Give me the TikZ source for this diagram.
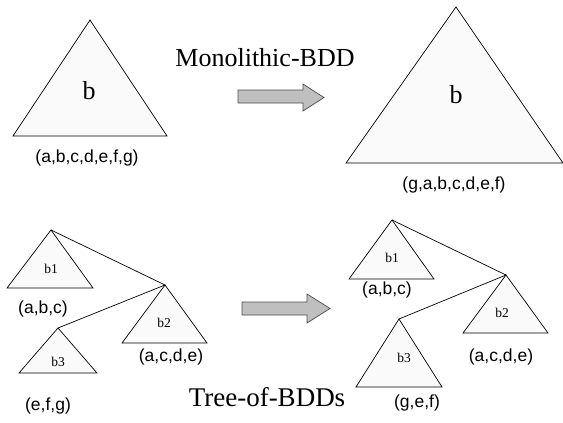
\documentclass[tikz,border=0pt]{standalone}
\usepackage{fontspec}
\setmainfont{Liberation Serif}
\newfontfamily\labelsans{Liberation Sans}
\begin{document}
\begin{tikzpicture}[x=1pt,y=-1pt,
  tri/.style={draw=black, fill=black!2, line width=0.7pt, line join=miter},
  link/.style={draw=black, line width=0.7pt},
  fatarrow/.style={draw=black!70, fill=black!25, line width=0.7pt, line join=miter},
  title/.style={anchor=base, inner sep=0pt, font=\fontsize{26}{30}\selectfont},
  bigname/.style={anchor=base, inner sep=0pt, font=\fontsize{26}{30}\selectfont},
  smallname/.style={anchor=base, inner sep=0pt, font=\fontsize{13.5}{16}\selectfont},
  order/.style={anchor=base, inner sep=0pt, font=\labelsans\fontsize{17.5}{20}\selectfont}]
\useasboundingbox (0,0) rectangle (563,423);

% ---- monolithic BDD: before and after reordering ----
\coordinate (m1) at (90,20);
\draw[tri] (m1) -- (167,136) -- (13,136) -- cycle;
\node[bigname] (m1name) at (89,99) {b};
\node[order] (m1ord) at (87,162) {(a,b,c,d,e,f,g)};

\coordinate (m2) at (456,7);
\draw[tri] (m2) -- (563,163) -- (346,163) -- cycle;
\node[bigname] (m2name) at (456,103) {b};
\node[order] (m2ord) at (454,189) {(g,a,b,c,d,e,f)};

\node[title] (mono) at (265,66) {Monolithic-BDD};
\draw[fatarrow] (238,90) -- (303,90) -- (303,84) -- (324,97.5) -- (303,111)
  -- (303,103) -- (238,103) -- cycle;

% ---- tree of BDDs: before ----
\coordinate (l1) at (51,230);
\coordinate (l2) at (165,285);
\coordinate (l3) at (58,328);
\draw[tri] (l1) -- (93,288) -- (7,288) -- cycle;
\draw[tri] (l2) -- (207,343) -- (122,343) -- cycle;
\draw[tri] (l3) -- (97,373) -- (19,373) -- cycle;
\draw[link] (l1) -- (l2);
\draw[link] (l2) -- (l3);
\node[smallname] (l1name) at (51,273) {b1};
\node[smallname] (l2name) at (164,327) {b2};
\node[smallname] (l3name) at (58,366) {b3};
\node[order] (l1ord) at (43,313) {(a,b,c)};
\node[order] (l2ord) at (171,361) {(a,c,d,e)};
\node[order] (l3ord) at (48,410) {(e,f,g)};

% ---- tree of BDDs: after ----
\coordinate (r1) at (392,220);
\coordinate (r2) at (506,275);
\coordinate (r3) at (399,319);
\draw[tri] (r1) -- (434,279) -- (349,279) -- cycle;
\draw[tri] (r2) -- (548,333) -- (463,333) -- cycle;
\draw[tri] (r3) -- (442,387) -- (356,387) -- cycle;
\draw[link] (r1) -- (r2);
\draw[link] (r2) -- (r3);
\node[smallname] (r1name) at (392,262) {b1};
\node[smallname] (r2name) at (502,317) {b2};
\node[smallname] (r3name) at (404,362) {b3};
\node[order] (r1ord) at (387,294) {(a,b,c)};
\node[order] (r2ord) at (501,361) {(a,c,d,e)};
\node[order] (r3ord) at (417,407) {(g,e,f)};

\node[title, font=\fontsize{27}{31}\selectfont] (tree) at (267,406) {Tree-of-BDDs};
\draw[fatarrow] (242,302) -- (307,302) -- (307,294) -- (330,308.5) -- (307,323)
  -- (307,315) -- (242,315) -- cycle;
\end{tikzpicture}
\end{document}
